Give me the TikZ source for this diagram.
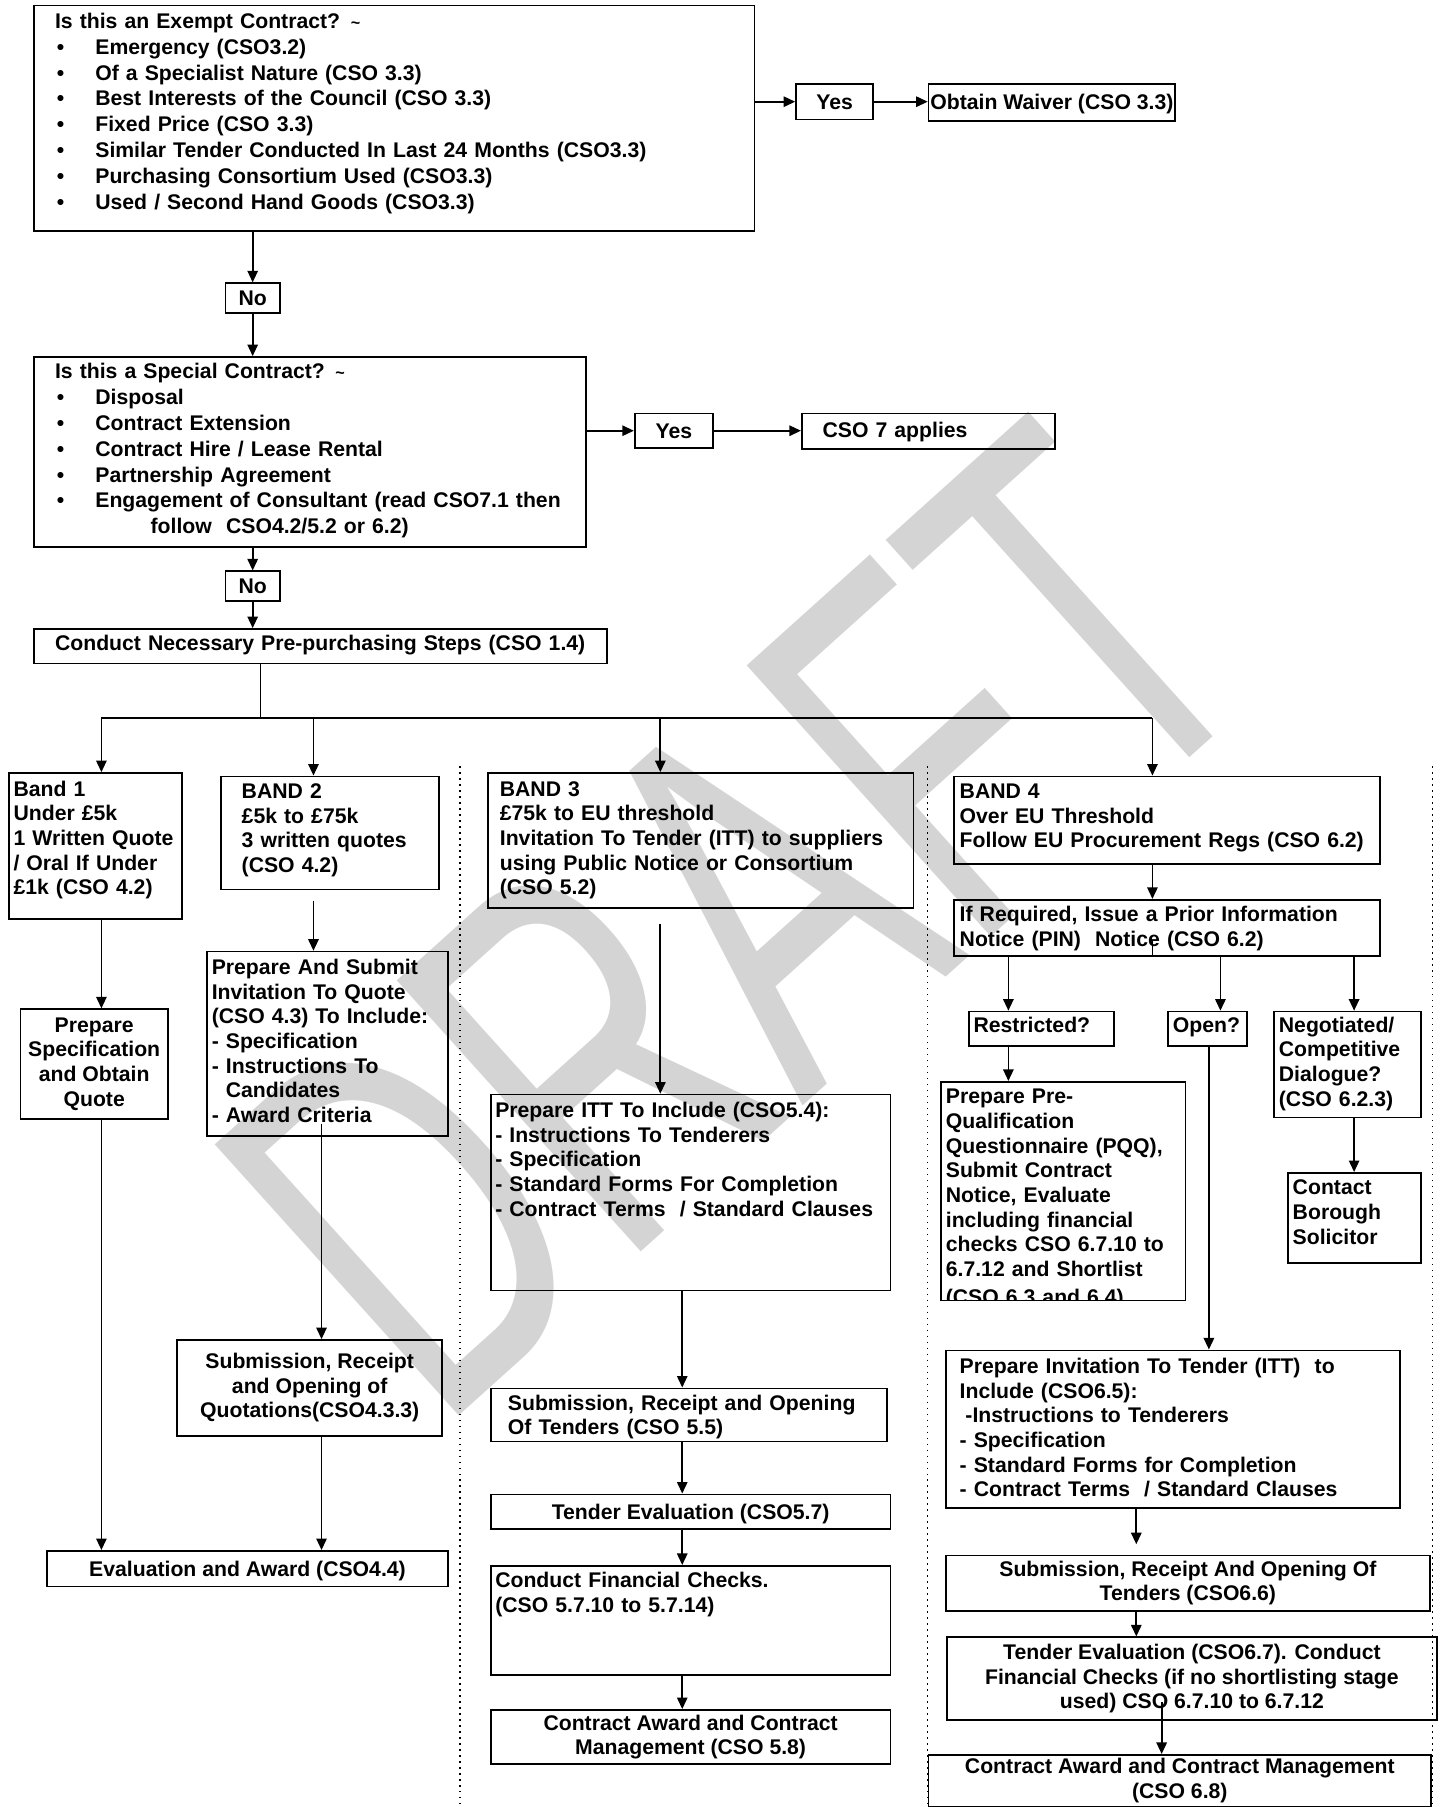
\documentclass[tikz,border=0pt]{standalone}
\usepackage{fontspec}
\setmainfont{Liberation Sans}
\usetikzlibrary{arrows.meta}
\newcommand{\bitem}{\makebox[17.5pt][l]{\hspace{0.8pt}\textbullet}}
\tikzset{
    >={Triangle[length=5pt,width=4.5pt]},
    every node/.style={font=\bfseries\fontsize{9.2}{10.7}\selectfont},
    wide/.style={font=\bfseries\fontsize{9.2}{11.2}\selectfont},
    lbox/.style n args={4}{draw,line width=0.75pt,anchor=north west,align=left,inner ysep=0pt,
        text width=#1,inner xsep=#2,text height=#3,text depth=#4},
    cbox/.style n args={2}{draw,line width=0.75pt,anchor=north west,align=center,inner sep=0pt,
        minimum width=#1,minimum height=#2},
    onebox/.style n args={2}{cbox={#1}{#2},text height=7.6pt,text depth=1pt},
    link/.style={line width=0.75pt},
    arr/.style={->,line width=0.75pt},
    sepline/.style={dotted,line width=0.6pt},
    watermark/.style={text=black!17,font=\fontsize{230}{230}\selectfont,inner sep=0pt}
}

\begin{document}
\begin{tikzpicture}[x=0.5pt,y=-0.5pt]
  \useasboundingbox (0,0) rectangle (1250,1568);
  \node[watermark,rotate=42,xscale=0.64,anchor=base west] (wm) at (380,1245) {DRAFT};

  % exemption and special contract checks
  \node[lbox={294.5pt}{9pt}{10pt}{88pt},wide] (exempt) at (29,4) {Is this an Exempt Contract? {\fontsize{7}{7}\selectfont\textasciitilde}\\
    \bitem Emergency (CSO3.2)\\
    \bitem Of a Specialist Nature (CSO 3.3)\\
    \bitem Best Interests of the Council (CSO 3.3)\\
    \bitem Fixed Price (CSO 3.3)\\
    \bitem Similar Tender Conducted In Last 24 Months (CSO3.3)\\
    \bitem Purchasing Consortium Used (CSO3.3)\\
    \bitem Used / Second Hand Goods (CSO3.3)};
  \node[onebox={33.5pt}{15.5pt}] (yes1) at (690,72) {Yes};
  \node[onebox={107pt}{16pt}] (waiver) at (805,72) {Obtain Waiver (CSO 3.3)};
  \node[onebox={23.5pt}{13pt}] (no1) at (195,245) {No};
  \node[lbox={221.5pt}{9pt}{9.5pt}{73pt},wide] (special) at (29,309) {Is this a Special Contract? {\fontsize{7}{7}\selectfont\textasciitilde}\\
    \bitem Disposal\\
    \bitem Contract Extension\\
    \bitem Contract Hire / Lease Rental\\
    \bitem Partnership Agreement\\
    \bitem Engagement of Consultant (read CSO7.1 then\\
    \hspace*{41.5pt}follow\ \ CSO4.2/5.2 or 6.2)};
  \node[onebox={34pt}{15pt}] (yes2) at (550,358) {Yes};
  \node[lbox={92pt}{9pt}{10.5pt}{5pt}] (cso7) at (695,358) {CSO 7 applies};
  \node[onebox={23.5pt}{13pt}] (no2) at (195,495) {No};
  \node[lbox={230.5pt}{9pt}{9.5pt}{5.5pt}] (conduct) at (29,545) {Conduct Necessary Pre-purchasing Steps (CSO 1.4)};

  \draw[arr] (yes1.west -| exempt.east) -- (yes1.west);
  \draw[arr] (yes1.east) -- (yes1.east -| waiver.west);
  \draw[arr] (exempt.south -| no1) -- (no1);
  \draw[arr] (no1) -- (no1 |- special.north);
  \draw[arr] (yes2.west -| special.east) -- (yes2.west);
  \draw[arr] (yes2.east) -- (yes2.east -| cso7.west);
  \draw[arr] (special.south -| no2) -- (no2);
  \draw[arr] (no2) -- (no2 |- conduct.north);

  % the four bands
  \node[lbox={71pt}{2pt}{10pt}{53.5pt}] (band1) at (7,670) {Band 1\\ Under £5k\\ 1 Written Quote\\ / Oral If Under\\ £1k (CSO 4.2)};
  \node[lbox={76.5pt}{9pt}{9.5pt}{39.5pt}] (band2) at (191,673) {BAND 2\\ £5k to £75k\\ 3 written quotes\\ (CSO 4.2)};
  \node[lbox={174.5pt}{5pt}{10pt}{48.5pt}] (band3) at (423,670) {BAND 3\\ £75k to EU threshold\\ Invitation To Tender (ITT) to suppliers\\ using Public Notice or Consortium\\ (CSO 5.2)};
  \node[lbox={180pt}{2.5pt}{9.5pt}{28.5pt}] (band4) at (827,673) {BAND 4\\ Over EU Threshold\\ Follow EU Procurement Regs (CSO 6.2)};

  \coordinate (fork) at (226,623);
  \coordinate (b1) at (88,623);
  \coordinate (b2) at (272,623);
  \coordinate (b3) at (573,623);
  \coordinate (b4) at (1000,623);
  \draw[link] (conduct.south -| fork) -- (fork);
  \draw[link] (b1) -- (b4);
  \draw[arr] (b1) -- (b1 |- band1.north);
  \draw[arr] (b2) -- (b2 |- band2.north);
  \draw[arr] (b3) -- (b3 |- band3.north);
  \draw[arr] (b4) -- (b4 |- band4.north);

  \draw[sepline] (399,665) -- (399,1568);
  \draw[sepline] (805,665) -- (805,1568);
  \draw[sepline] (1243,665) -- (1243,1568);

  % band 1 and band 2
  \node[cbox={64pt}{47.5pt}] (spec) at (17,875) {Prepare\\ Specification\\ and Obtain\\ Quote};
  \node[lbox={100.5pt}{2pt}{10pt}{70pt}] (itq) at (179,825) {Prepare And Submit\\ Invitation To Quote\\ (CSO 4.3) To Include:\\ - Specification\\ - Instructions To\\ \phantom{- }Candidates\\ - Award Criteria};
  \node[cbox={115pt}{41.5pt}] (sub4) at (153,1162) {Submission, Receipt\\ and Opening of\\ Quotations(CSO4.3.3)};
  \node[onebox={174pt}{15.5pt}] (eval4) at (40,1345) {Evaluation and Award (CSO4.4)};

  \coordinate (q2) at (279,975);
  \draw[arr] (band1.south -| b1) -- (b1 |- spec.north);
  \draw[arr] (spec.south -| b1) -- (b1 |- eval4.north);
  \draw[arr] ([yshift=-4.5pt]band2.south -| b2) -- (b2 |- itq.north);
  \draw[arr] (q2) -- (q2 |- sub4.north);
  \draw[arr] (sub4.south -| q2) -- (q2 |- eval4.north);

  % band 3
  \node[lbox={169.5pt}{2pt}{10pt}{75pt}] (itt5) at (425,949) {Prepare ITT To Include (CSO5.4):\\ - Instructions To Tenderers\\ - Specification\\ - Standard Forms For Completion\\ - Contract Terms\ \ / Standard Clauses};
  \node[lbox={157pt}{7.5pt}{9.5pt}{13.5pt}] (sub5) at (425,1204) {Submission, Receipt and Opening\\ Of Tenders (CSO 5.5)};
  \node[onebox={173.5pt}{15pt}] (teval5) at (425,1296) {Tender Evaluation (CSO5.7)};
  \node[lbox={169.5pt}{2pt}{9.5pt}{38pt}] (fin5) at (425,1358) {Conduct Financial Checks.\\ (CSO 5.7.10 to 5.7.14)};
  \node[cbox={173.5pt}{23.5pt}] (award5) at (425,1483) {Contract Award and Contract\\ Management (CSO 5.8)};

  \coordinate (q3) at (592,1122);
  \draw[arr] ([yshift=-6.5pt]band3.south -| b3) -- (b3 |- itt5.north);
  \draw[arr] (itt5.south -| q3) -- (q3 |- sub5.north);
  \draw[arr] (sub5.south -| q3) -- (q3 |- teval5.north);
  \draw[arr] (teval5.south -| q3) -- (q3 |- fin5.north);
  \draw[arr] (fin5.south -| q3) -- (q3 |- award5.north);

  % band 4
  \node[lbox={180pt}{2.5pt}{9.5pt}{15pt}] (pin) at (827,780) {If Required, Issue a Prior Information\\ Notice (PIN)\ \ Notice (CSO 6.2)};
  \node[lbox={59pt}{2pt}{9pt}{6pt}] (restr) at (840,877) {Restricted?};
  \node[lbox={30pt}{2pt}{9pt}{6pt}] (open) at (1013,877) {Open?};
  \node[lbox={59.5pt}{2pt}{9pt}{37pt}] (nego) at (1105,877) {Negotiated/\\ Competitive\\ Dialogue?\\ (CSO 6.2.3)};
  \node[lbox={53.5pt}{2pt}{9.5pt}{29.5pt}] (contact) at (1117,1017) {Contact\\ Borough\\ Solicitor};
  \begin{scope}
    \clip (814,936) rectangle (1030,1128.7);
    \node[lbox={102pt}{2pt}{9.5pt}{85.5pt}] (pqq) at (816,938) {Prepare Pre-\\ Qualification\\ Questionnaire (PQQ),\\ Submit Contract\\ Notice, Evaluate\\ including financial\\ checks CSO 6.7.10 to\\ 6.7.12 and Shortlist\\[1.5pt] (CSO 6.3 and 6.4)};
  \end{scope}
  \node[lbox={185pt}{6pt}{10pt}{58.5pt}] (itt6) at (820,1171) {Prepare Invitation To Tender (ITT)\ \ to\\ Include (CSO6.5):\\ \hspace*{2.5pt}-Instructions to Tenderers\\ - Specification\\ - Standard Forms for Completion\\ - Contract Terms\ \ / Standard Clauses};
  \node[cbox={210pt}{24pt}] (sub6) at (820,1349) {Submission, Receipt And Opening Of\\ Tenders (CSO6.6)};
  \node[cbox={212.5pt}{36pt}] (teval6) at (821,1420) {Tender Evaluation (CSO6.7). Conduct\\ Financial Checks (if no shortlisting stage\\ used) CSO 6.7.10 to 6.7.12};
  \node[cbox={218pt}{22.5pt}] (award6) at (805,1522) {Contract Award and Contract Management\\ (CSO 6.8)};

  \coordinate (r4) at (875,829);
  \coordinate (o4) at (1059,829);
  \coordinate (n4) at (1175,829);
  \coordinate (o5) at (1049,907);
  \coordinate (q6) at (986,1308);
  \coordinate (q7) at (1008,1477);
  \draw[arr] (band4.south -| b4) -- (b4 |- pin.north);
  \draw[link] (pin.south -| b4) -- ++(0,-14);
  \draw[arr] (r4) -- (r4 |- restr.north);
  \draw[arr] (o4) -- (o4 |- open.north);
  \draw[arr] (n4) -- (n4 |- nego.north);
  \draw[arr] (restr.south -| r4) -- (r4 |- pqq.north);
  \draw[arr] (nego.south -| n4) -- (n4 |- contact.north);
  \draw[arr] (open.south -| o5) -- (o5 |- itt6.north);
  \draw[arr] (itt6.south -| q6) -- ([yshift=4.5pt]q6 |- sub6.north);
  \draw[arr] (sub6.south -| q6) -- (q6 |- teval6.north);
  \draw[arr] (q7) -- (q7 |- award6.north);
\end{tikzpicture}
\end{document}
